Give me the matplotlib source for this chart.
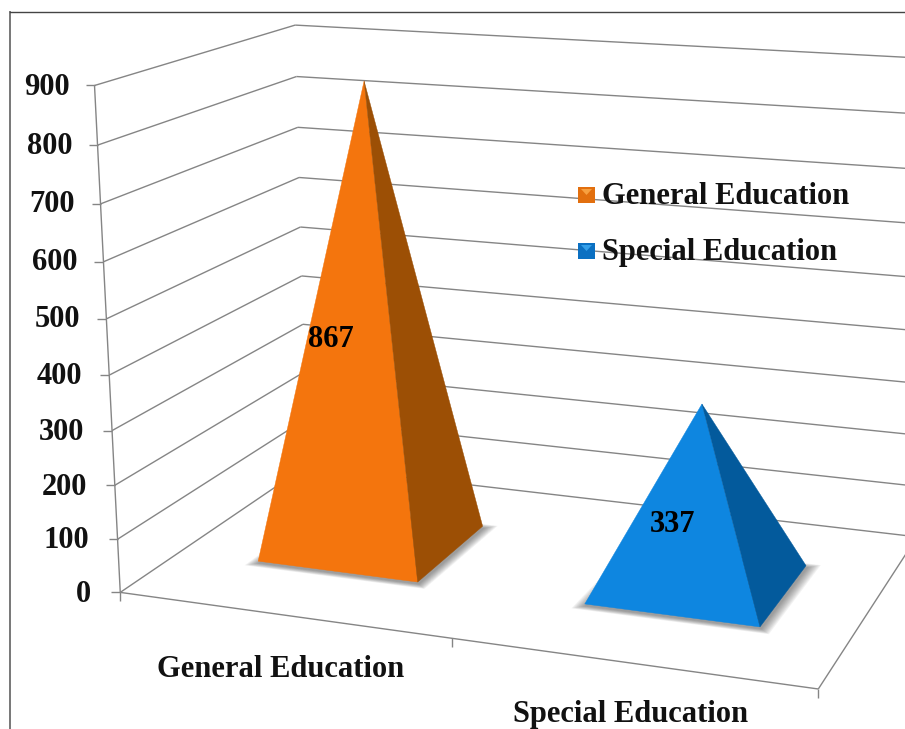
import numpy as np
import matplotlib
matplotlib.use('Agg')
import matplotlib.pyplot as plt
from matplotlib.patches import Polygon, Rectangle

# data
categories = ['General Education', 'Special Education']
values = [867, 337]
ticks = [0, 100, 200, 300, 400, 500, 600, 700, 800, 900]

front_colors = ['#F4750D', '#0E86E0']
side_colors = ['#9C4F05', '#035A9C']
legend_colors = ['#E26F0E', '#0B70C2']
legend_light = ['#F7A040', '#34A0EA']
GRID = '#858585'
FONT = 'Liberation Serif'
FS = 22

# camera calibration: (category pos, depth, value) -> picture position
wall_front_y = [593, 540, 486, 431, 375, 318, 261, 203, 145, 86]
wall_front_x = [118, 116, 114, 111, 109, 107, 104, 102, 99, 97]
wall_back_y = [464, 418, 372, 325, 276, 228, 178, 127, 77, 25]
wall_back_x = [310, 308, 305, 303, 301, 299, 298, 297, 295, 293]
calib = []
for i, t in enumerate(ticks):
    calib.append((0, 0, t, wall_front_x[i], wall_front_y[i]))
    calib.append((0, 1, t, wall_back_x[i], wall_back_y[i]))
calib += [(1, 0, 0, 452, 640), (2, 0, 0, 818, 687), (2, 1, 0, 916, 538), (2, 1, 900, 944, 59)]

A = []
b = []
for u, d, v, px, py in calib:
    X = [u / 2, d, v / 900, 1]
    A.append(X + [0, 0, 0, 0] + [-px * c for c in X[:3]])
    A.append([0, 0, 0, 0] + X + [-py * c for c in X[:3]])
    b += [px, py]
p = np.linalg.lstsq(np.array(A, float), np.array(b, float), rcond=None)[0]
P = np.append(p, 1).reshape(3, 4)


def proj(u, d, v):
    q = P @ np.array([u / 2, d, v / 900, 1])
    return q[0] / q[2], q[1] / q[2]


fig = plt.figure(figsize=(9.05, 7.29), dpi=100)
ax = fig.add_axes([0, 0, 1, 1])
ax.set_xlim(0, 905)
ax.set_ylim(729, 0)
ax.axis('off')


def seg(a, b, color=GRID, lw=1.0, z=1):
    ax.plot([a[0], b[0]], [a[1], b[1]], color=color, lw=lw, zorder=z, solid_capstyle='butt')


# outer frame
ax.plot([10, 10], [729, 12], color='#777777', lw=1.4, zorder=1)
ax.plot([10, 905], [12, 12], color='#444444', lw=1.0, zorder=1)

# walls and floor
for i, t in enumerate(ticks):
    seg(proj(0, 0, t), proj(0, 1, t))
    seg(proj(0, 1, t), proj(2, 1, t))
    x, y = proj(0, 0, t)
    seg((x - 9, y), (x, y))
    ax.text(wall_front_x[i] - 27, wall_front_y[i] + 1, str(t), ha='right', va='center', family=FONT,
            weight='bold', fontsize=FS, color='#111111', zorder=5)
seg(proj(0, 0, 0), proj(0, 0, 900))
seg(proj(0, 0, 0), proj(2, 0, 0))
seg(proj(2, 0, 0), proj(2, 1, 0))
for u in [0, 1, 2]:
    x, y = proj(u, 0, 0)
    seg((x, y), (x, y + 9))

# pyramids
half_w = 0.25
d0, d1 = 0.295, 0.71
for i, val in enumerate(values):
    c = i + 0.5
    fl = proj(c - half_w, d0, 0)
    fr = proj(c + half_w, d0, 0)
    br = proj(c + half_w, d1, 0)
    bl = proj(c - half_w, d1, 0)
    top = proj(c, 0.5, val)
    # soft shadow round the base
    base = np.array([fl, fr, br, bl])
    mid = base.mean(axis=0)
    for k in range(10):
        grow = 1.01 + k * 0.013
        ax.add_patch(Polygon(mid + (base - mid) * grow + [1, 2], closed=True, fc='#303030',
                             ec='none', alpha=0.06, zorder=2))
    ax.add_patch(Polygon([fl, fr, top], closed=True, fc=front_colors[i], ec=front_colors[i], lw=0.3, zorder=3))
    ax.add_patch(Polygon([fr, br, top], closed=True, fc=side_colors[i], ec=side_colors[i], lw=0.3, zorder=3))

# value labels
label_pos = [(331, 339), (673, 524)]
for val, (x, y) in zip(values, label_pos):
    ax.text(x, y, str(val), ha='center', va='center', family=FONT, weight='bold',
            fontsize=FS, color='black', zorder=6)

# category labels
cat_pos = [(281, 677), (631, 722)]
for name, (x, y) in zip(categories, cat_pos):
    ax.text(x, y, name, ha='center', va='baseline', family=FONT, weight='bold',
            fontsize=FS, color='#111111', zorder=5)

# legend
legend_y = [195, 251]
for i, name in enumerate(categories):
    y = legend_y[i]
    ax.add_patch(Rectangle((578, y - 8), 17, 16, fc=legend_colors[i], ec='none', zorder=5))
    ax.add_patch(Polygon([(581, y - 6), (592, y - 6), (586.5, y)], closed=True,
                         fc=legend_light[i], ec='none', zorder=5))
    ax.text(602, y + 1, name, ha='left', va='center', family=FONT, weight='bold',
            fontsize=FS, color='#111111', zorder=5)

fig.savefig('out.png', dpi=100)
